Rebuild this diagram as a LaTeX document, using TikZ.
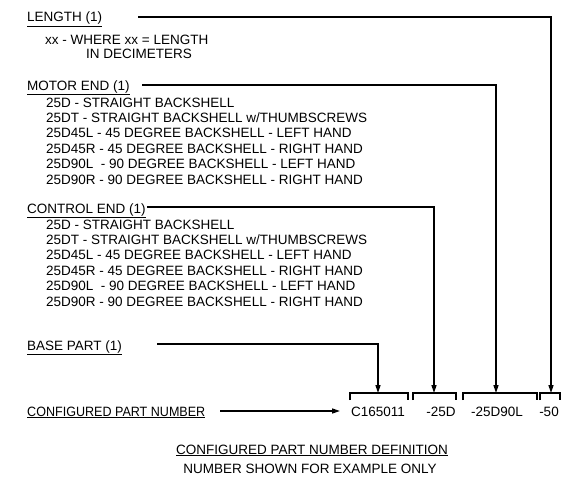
\documentclass[tikz,border=0pt]{standalone}
\usepackage{fontspec}
\setmainfont{Liberation Sans}
\usetikzlibrary{arrows.meta}
\begin{document}
\begin{tikzpicture}[x=1pt,y=-1pt,
  txt/.style={inner sep=0pt, anchor=base west, font=\fontsize{13.5}{15}\selectfont},
  ctxt/.style={inner sep=0pt, anchor=base, font=\fontsize{13.5}{15}\selectfont},
  conn/.style={line width=1.5pt, -{Triangle[length=8pt,width=5pt]}},
  brk/.style={line width=1.5pt}]
\useasboundingbox (0,0) rectangle (572,487);
% labels
\node[txt] (len) at (27,22) {\underline{LENGTH (1)}};
\node[txt] (len1) at (45,45) {xx - WHERE xx = LENGTH};
\node[txt] (len2) at (86,59) {IN DECIMETERS};
\node[txt] (mot) at (27,90) {\underline{MOTOR END (1)}};
\node[txt] (ctl) at (27,213) {\underline{CONTROL END (1)}};
\node[txt] (base) at (27,350) {\underline{BASE PART (1)}};
\node[txt] (cpn) at (27,416) {\scalebox{0.93}[1]{\underline{CONFIGURED PART NUMBER}}};
% lists
\foreach \t [count=\i] in {{25D - STRAIGHT BACKSHELL},{25DT - STRAIGHT BACKSHELL w/THUMBSCREWS},{25D45L - 45 DEGREE BACKSHELL - LEFT HAND},{25D45R - 45 DEGREE BACKSHELL - RIGHT HAND},{25D90L\ \ - 90 DEGREE BACKSHELL - LEFT HAND},{25D90R - 90 DEGREE BACKSHELL - RIGHT HAND}}{
  \node[txt] (m\i) at (46,{107+15.4*(\i-1)}) {\t};
  \node[txt] (c\i) at (46,{229+15.4*(\i-1)}) {\t};
}
% part number
\node[ctxt] (p1) at (378,416) {C165011};
\node[ctxt] (p2) at (441,416) {-25D};
\node[ctxt] (p3) at (497,416) {-25D90L};
\node[ctxt] (p4) at (549,416) {-50};
% brackets
\draw[brk] (350,400) -- (350,393) -- (408,393) -- (408,400);
\draw[brk] (413,400) -- (413,393) -- (456,393) -- (456,400);
\draw[brk] (463,400) -- (463,393) -- (537,393) -- (537,400);
\draw[brk] (540,400) -- (540,393) -- (560,393) -- (560,400);
\coordinate (b1) at (378,393);
\coordinate (b2) at (434,393);
\coordinate (b3) at (496,393);
\coordinate (b4) at (551,393);
% connector starts
\coordinate (sLen) at (138,17);
\coordinate (sMot) at (142,85);
\coordinate (sCtl) at ([xshift=1pt]ctl.east |- 0,207);
\coordinate (sBase) at (157,344);
\coordinate (sCpn) at (220,411);
\coordinate (eCpn) at (340,411);
\draw[conn] (sLen) -| (b4);
\draw[conn] (sMot) -| (b3);
\draw[conn] (sCtl) -| (b2);
\draw[conn] (sBase) -| (b1);
\draw[conn] (sCpn) -- (eCpn);
% footer
\node[ctxt] (t1) at (312,454) {\underline{CONFIGURED PART NUMBER DEFINITION}};
\node[ctxt] (t2) at (310,473) {NUMBER SHOWN FOR EXAMPLE ONLY};
\end{tikzpicture}
\end{document}
